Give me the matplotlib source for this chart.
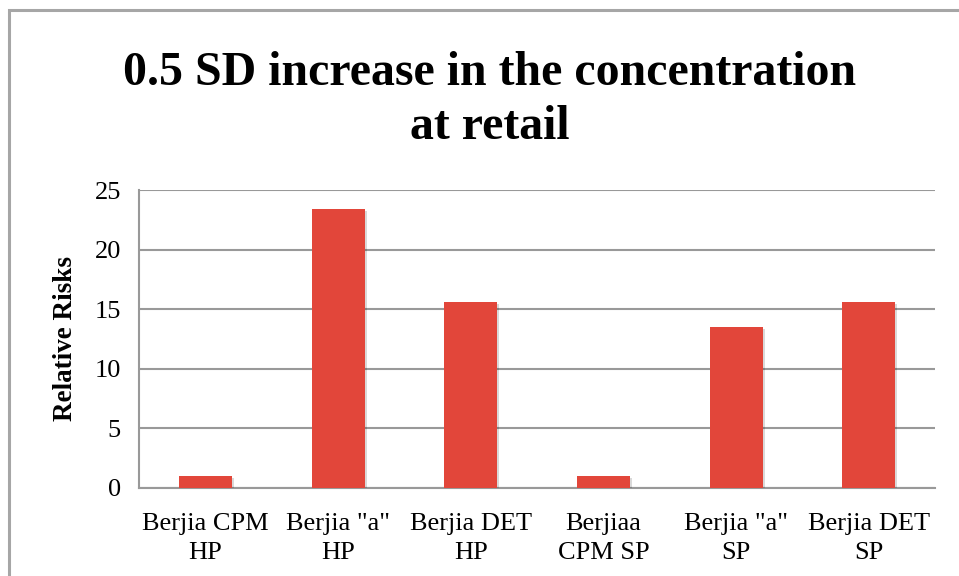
import matplotlib.pyplot as plt
import matplotlib.patheffects as pe
from matplotlib.patches import Rectangle

categories = [
    "Berjia CPM\nHP",
    "Berjia \"a\"\nHP",
    "Berjia DET\nHP",
    "Berjiaa\nCPM SP",
    "Berjia \"a\"\nSP",
    "Berjia DET\nSP",
]
relative_risks = [1.0, 23.4, 15.6, 1.0, 13.5, 15.6]
y_ticks = [0, 5, 10, 15, 20, 25]

plt.rcParams["font.family"] = ["Liberation Serif", "DejaVu Serif"]

fig = plt.figure(figsize=(9.59, 5.76), dpi=100)
ax = fig.add_axes([0.145, 0.153, 0.830, 0.517])

# outer chart frame (only top and left edges fall inside the canvas)
fig.patches.append(
    Rectangle((9 / 959, -0.1), 1.2, 1 - 10 / 576 + 0.1, transform=fig.transFigure,
              fill=False, edgecolor="#a6a6a6", linewidth=2.2, zorder=0)
)

bars = ax.bar(range(len(categories)), relative_risks, width=0.4,
              color="#e2463a", zorder=3)
for b in bars:
    b.set_path_effects([pe.SimplePatchShadow(offset=(1.5, -1.5), shadow_rgbFace="#000000", alpha=0.15),
                        pe.Normal()])

ax.set_ylim(0, 25)
ax.set_xlim(-0.5, len(categories) - 0.5)
ax.set_yticks(y_ticks)
ax.yaxis.grid(True, color="#999999", linewidth=1.5, zorder=0)
ax.set_axisbelow(True)
ax.set_xticks(range(len(categories)))
ax.set_xticklabels(categories, fontsize=19, linespacing=1.4)
ax.tick_params(axis="y", labelsize=19, length=0, pad=13)
ax.tick_params(axis="x", length=0, pad=18)

for side in ["top", "right"]:
    ax.spines[side].set_visible(False)
for side in ["left", "bottom"]:
    ax.spines[side].set_color("#999999")
    ax.spines[side].set_linewidth(1.5)

ax.set_ylabel("Relative Risks", fontsize=19.5, fontweight="bold", labelpad=12)

fig.text(0.511, 0.826, "0.5 SD increase in the concentration\nat retail",
         ha="center", va="center", fontsize=34.5, fontweight="bold", linespacing=1.3)

fig.savefig("out.png", dpi=100)
